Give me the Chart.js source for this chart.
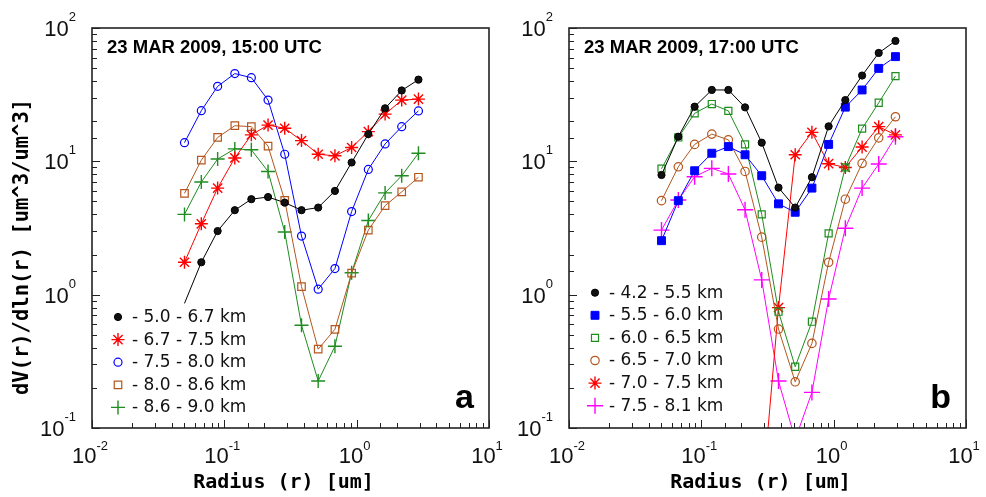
<!DOCTYPE html>
<html>
<head>
<meta charset="utf-8">
<script src="https://cdn.jsdelivr.net/npm/chart.js@4.4.1/dist/chart.umd.min.js"></script>
<style>
  html, body { margin: 0; padding: 0; background: #fff; }
  #wrap { position: relative; width: 986px; height: 497px; }
  .panel { position: absolute; top: 0; height: 497px; }
</style>
</head>
<body>
<div id="wrap">
  <div class="panel" style="left:0;width:520px"><canvas id="chartA" width="520" height="497"></canvas></div>
  <div class="panel" style="left:493px;width:493px"><canvas id="chartB" width="493" height="497"></canvas></div>
</div>
<script>
// radius bins [um]
const radius = [0.05, 0.067, 0.089, 0.12, 0.16, 0.214, 0.286, 0.383, 0.512, 0.685, 0.916, 1.225, 1.64, 2.19, 2.93];

const xDecades = [0.01, 0.1, 1, 10];
const yDecades = [0.1, 1, 10, 100];

// panel a : 23 MAR 2009, 15:00 UTC
const aTitle = '23 MAR 2009, 15:00 UTC';
const aLabels = ['- 5.0 - 6.7 km', '- 6.7 - 7.5 km', '- 7.5 - 8.0 km', '- 8.0 - 8.6 km', '- 8.6 - 9.0 km'];
const a50_67 = [0.86, 1.75, 3.0, 4.3, 5.2, 5.4, 4.9, 4.3, 4.5, 6.0, 9.8, 16.0, 25.0, 34.0, 41.0];
const a67_75 = [1.75, 3.4, 6.3, 10.6, 15.8, 18.7, 17.7, 14.3, 11.3, 11.0, 12.7, 16.7, 22.6, 28.8, 29.3];
const a75_80 = [13.8, 24.0, 36.5, 45.5, 42.4, 28.8, 11.3, 2.75, 1.1, 1.57, 4.2, 8.7, 13.5, 18.2, 23.9];
const a80_86 = [5.75, 10.2, 15.1, 18.5, 18.2, 13.0, 5.1, 1.15, 0.39, 0.55, 1.45, 3.05, 4.65, 5.9, 7.6];
const a86_90 = [4.0, 7.0, 10.4, 12.4, 12.2, 8.4, 2.95, 0.59, 0.225, 0.41, 1.46, 3.6, 5.8, 7.8, 11.5];

// panel b : 23 MAR 2009, 17:00 UTC
const bTitle = '23 MAR 2009, 17:00 UTC';
const bLabels = ['- 4.2 - 5.5 km', '- 5.5 - 6.0 km', '- 6.0 - 6.5 km', '- 6.5 - 7.0 km', '- 7.0 - 7.5 km', '- 7.5 - 8.1 km'];
const b42_55 = [7.9, 15.3, 25.7, 34.3, 34.3, 25.4, 13.8, 6.35, 4.5, 7.6, 18.3, 28.8, 44.0, 65.0, 80.0];
const b55_60 = [2.54, 5.07, 8.5, 11.5, 12.9, 11.2, 7.8, 4.8, 4.15, 6.3, 13.4, 25.5, 34.3, 49.8, 61.0];
const b60_65 = [8.8, 15.1, 22.9, 26.9, 23.9, 13.4, 4.0, 0.745, 0.288, 0.627, 2.88, 9.0, 17.6, 27.5, 43.6];
const b65_70 = [5.07, 9.1, 13.4, 16.0, 14.5, 8.4, 2.7, 0.552, 0.222, 0.431, 1.75, 5.2, 9.66, 15.0, 21.6];
const b70_75 = [null, null, null, null, null, null, 0.028, 0.8, 11.2, 16.5, 9.6, 9.0, 12.8, 18.2, 15.8];
const b75_81 = [3.05, 5.13, 7.67, 8.86, 8.04, 4.33, 1.29, 0.225, 0.082, 0.185, 0.927, 3.15, 6.3, 9.55, 15.3];

const BROWN = '#b4561e';
const GREEN = '#1e8c1e';
const NONE = 'rgba(0,0,0,0)';

function isDecade(v) {
  const l = Math.log10(v);
  return Math.abs(l - Math.round(l)) < 1e-6;
}

// "10" with a raised exponent
function powLabel(ctx, exp, x, baseline, align, supRise) {
  ctx.font = '22px "Liberation Sans", Arial, sans-serif';
  const w1 = ctx.measureText('10').width;
  ctx.font = '13px "Liberation Sans", Arial, sans-serif';
  const w2 = ctx.measureText(String(exp)).width;
  let x0 = align === 'right' ? x - w1 - w2 : x - (w1 + w2) / 2;
  ctx.textAlign = 'left';
  ctx.textBaseline = 'alphabetic';
  ctx.font = '22px "Liberation Sans", Arial, sans-serif';
  ctx.fillText('10', x0, baseline);
  ctx.font = '13px "Liberation Sans", Arial, sans-serif';
  ctx.fillText(String(exp), x0 + w1, baseline - supRise);
}

const panelDeco = {
  id: 'panelDeco',
  afterDraw(chart, args, o) {
    const { ctx, chartArea: a } = chart;
    const x = chart.scales.x, y = chart.scales.y;
    ctx.save();
    ctx.fillStyle = '#000';
    ctx.strokeStyle = '#222';

    // inward tick marks
    ctx.lineWidth = 1;
    ctx.beginPath();
    x.ticks.forEach(t => {
      const px = Math.round(x.getPixelForValue(t.value)) + 0.5;
      const len = isDecade(t.value) ? 8 : 5;
      ctx.moveTo(px, a.bottom);
      ctx.lineTo(px, a.bottom - len);
    });
    y.ticks.forEach(t => {
      const py = Math.round(y.getPixelForValue(t.value)) + 0.5;
      const len = isDecade(t.value) ? 8 : 5;
      ctx.moveTo(a.left, py);
      ctx.lineTo(a.left + len, py);
    });
    ctx.stroke();

    // frame
    ctx.lineWidth = 1.6;
    ctx.strokeRect(a.left, a.top, a.right - a.left, a.bottom - a.top);

    // tick labels
    ctx.fillStyle = '#111';
    xDecades.forEach(v => {
      powLabel(ctx, Math.round(Math.log10(v)), x.getPixelForValue(v) - 2, a.bottom + 35, 'center', 13);
    });
    yDecades.forEach(v => {
      powLabel(ctx, Math.round(Math.log10(v)), a.left - 16, y.getPixelForValue(v) + 8, 'right', 15);
    });

    // axis titles
    ctx.fillStyle = '#000';
    ctx.font = 'bold 20px "DejaVu Sans Mono", monospace';
    ctx.textAlign = 'center';
    ctx.textBaseline = 'alphabetic';
    ctx.fillText('Radius (r) [um]', (a.left + a.right) / 2 - 7, 488);
    if (o.yTitle) {
      ctx.save();
      ctx.translate(23, 247);
      ctx.rotate(-Math.PI / 2);
      ctx.textBaseline = 'middle';
      ctx.font = 'bold 20.5px "DejaVu Sans Mono", monospace';
      ctx.fillText(o.yTitle, 0, 0);
      ctx.restore();
    }

    // panel title and letter
    ctx.textAlign = 'left';
    ctx.font = 'bold 18.5px "Liberation Sans", Arial, sans-serif';
    ctx.fillText(o.title, a.left + 15, 53);
    ctx.textAlign = 'right';
    ctx.font = 'bold 34px "Liberation Sans", Arial, sans-serif';
    ctx.fillText(o.letter, a.right - 15, 408);

    // legend
    ctx.font = '17px "DejaVu Sans", sans-serif';
    ctx.textBaseline = 'middle';
    chart.data.datasets.forEach((ds, i) => {
      const ly = o.legendTop + i * 22.6;
      const lx = a.left + 26;
      ctx.save();
      ctx.strokeStyle = ds.borderColor;
      ctx.fillStyle = ds.pointBackgroundColor;
      ctx.lineWidth = ds.pointBorderWidth;
      Chart.helpers.drawPoint(ctx, {
        pointStyle: ds.pointStyle, radius: ds.legendRadius, rotation: 0,
        borderWidth: ds.pointBorderWidth
      }, lx, ly);
      ctx.restore();
      ctx.fillStyle = '#111';
      ctx.textAlign = 'left';
      ctx.fillText(ds.label, a.left + 40, ly + 0.5);
    });
    ctx.restore();
  }
};

function series(label, values, color, fill, style, r, bw, hideFirst) {
  return {
    label: label,
    data: radius.map((rv, i) => ({ x: rv, y: values[i] })),
    borderColor: color,
    backgroundColor: fill,
    borderWidth: 1,
    pointStyle: style,
    pointRadius: hideFirst ? (c => c.dataIndex === 0 ? 0 : r) : r,
    legendRadius: r,
    pointHoverRadius: r,
    pointBorderWidth: bw,
    pointBackgroundColor: fill,
    pointBorderColor: color,
    tension: 0,
    spanGaps: false,
    clip: 0
  };
}

function makeChart(id, datasets, deco, yWidth, padRight) {
  return new Chart(document.getElementById(id), {
    type: 'line',
    data: { datasets: datasets },
    options: {
      responsive: false,
      animation: false,
      devicePixelRatio: 1,
      events: [],
      layout: { padding: { left: 0, top: 28, right: padRight, bottom: 0 } },
      plugins: { legend: { display: false }, tooltip: { enabled: false }, panelDeco: deco },
      scales: {
        x: {
          type: 'logarithmic', min: 0.01, max: 10,
          grid: { display: false }, border: { display: false },
          ticks: { display: false, autoSkip: false },
          afterFit: s => { s.height = 69; }
        },
        y: {
          type: 'logarithmic', min: 0.1, max: 100,
          grid: { display: false }, border: { display: false },
          ticks: { display: false, autoSkip: false },
          afterFit: s => { s.width = yWidth; }
        }
      }
    },
    plugins: [panelDeco]
  });
}

makeChart('chartA', [
  series(aLabels[0], a50_67, '#000', '#111', 'circle', 3.6, 1, true),
  series(aLabels[1], a67_75, '#ff0000', '#ff0000', 'star', 6.5, 1.4),
  series(aLabels[2], a75_80, '#0000ff', NONE, 'circle', 4, 1.2),
  series(aLabels[3], a80_86, BROWN, NONE, 'rect', 5.3, 1.2),
  series(aLabels[4], a86_90, GREEN, GREEN, 'cross', 7, 1.4)
], { title: aTitle, letter: 'a', legendTop: 317, yTitle: 'dV(r)/dln(r) [um^3/um^3]' }, 92, 31);

makeChart('chartB', [
  series(bLabels[0], b42_55, '#000', '#111', 'circle', 3.6, 1),
  series(bLabels[1], b55_60, '#0000ff', '#0000ff', 'rect', 5.6, 1),
  series(bLabels[2], b60_65, GREEN, NONE, 'rect', 5.0, 1.2),
  series(bLabels[3], b65_70, BROWN, NONE, 'circle', 4.2, 1.2),
  series(bLabels[4], b70_75, '#ff0000', '#ff0000', 'star', 6.5, 1.4),
  series(bLabels[5], b75_81, '#ff00ff', '#ff00ff', 'cross', 8, 1.4)
], { title: bTitle, letter: 'b', legendTop: 292.7, yTitle: null }, 76, 20);
</script>
</body>
</html>
